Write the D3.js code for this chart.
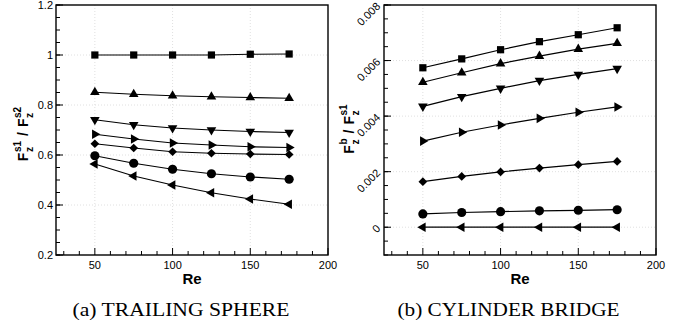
<!DOCTYPE html>
<html>
<head>
<meta charset="utf-8">
<script src="https://cdn.jsdelivr.net/npm/d3@7"></script>
<style>
  body { margin: 0; background: #fff; }
  svg { display: block; }
  .tick-label { font-family: "Liberation Sans", Arial, sans-serif; font-size: 11px; fill: #000; }
  .axis-title { font-family: "Liberation Sans", Arial, sans-serif; font-weight: bold; fill: #000; }
  .caption { font-family: "Liberation Serif", "Times New Roman", serif; font-size: 19px; fill: #000; }
</style>
</head>
<body>
<svg id="chart" width="676" height="326"></svg>
<script>
const RE = [50, 75, 100, 125, 150, 175]
const MARKERS = ['square', 'triUp', 'triDown', 'triRight', 'diamond', 'circle', 'triLeft']

// (a) trailing sphere, F_z^s1 / F_z^s2
const sphereSquare   = [1.0, 1.0, 1.0, 1.0, 1.003, 1.004]
const sphereTriUp    = [0.851, 0.843, 0.837, 0.833, 0.830, 0.827]
const sphereTriDown  = [0.741, 0.721, 0.708, 0.700, 0.694, 0.690]
const sphereTriRight = [0.683, 0.664, 0.648, 0.640, 0.633, 0.630]
const sphereDiamond  = [0.645, 0.628, 0.613, 0.607, 0.604, 0.602]
const sphereCircle   = [0.597, 0.567, 0.543, 0.525, 0.512, 0.503]
const sphereTriLeft  = [0.564, 0.516, 0.480, 0.449, 0.424, 0.403]

// (b) cylinder bridge, F_z^b / F_z^s1
const bridgeSquare   = [0.00574, 0.00606, 0.00639, 0.00668, 0.00693, 0.00718]
const bridgeTriUp    = [0.00522, 0.00556, 0.00589, 0.00616, 0.00641, 0.00662]
const bridgeTriDown  = [0.00435, 0.00470, 0.00500, 0.00528, 0.00550, 0.00571]
const bridgeTriRight = [0.00310, 0.00342, 0.00368, 0.00392, 0.00414, 0.00433]
const bridgeDiamond  = [0.00164, 0.00183, 0.00199, 0.00213, 0.00225, 0.00237]
const bridgeCircle   = [0.00048, 0.00053, 0.00056, 0.00059, 0.00061, 0.00063]
const bridgeTriLeft  = [0, 0, 0, 0, 0, 0]

const sphereTicks = [0.2, 0.4, 0.6, 0.8, 1, 1.2]
const sphereTickLabels = ['0.2', '0.4', '0.6', '0.8', '1', '1.2']
const bridgeTicks = [0, 0.002, 0.004, 0.006, 0.008]
const bridgeTickLabels = ['0', '0.002', '0.004', '0.006', '0.008']
const reTicks = [50, 100, 150, 200]

const svg = d3.select('#chart')

function markerPath (kind) {
  if (kind === 'square') return d3.symbol(d3.symbolSquare, 52)()
  if (kind === 'circle') return d3.symbol(d3.symbolCircle, 66)()
  if (kind === 'diamond') return d3.symbol(d3.symbolSquare, 38)()
  return d3.symbol(d3.symbolTriangle, 40)()
}
const ROT = { triUp: 0, triDown: 180, triRight: 90, triLeft: -90, diamond: 45 }

function drawPanel (opts) {
  const { left, top, width, height, yDomain, yTicks, yLabels, yMinorStep, series, rotateLabels } = opts
  const g = svg.append('g').attr('transform', 'translate(' + left + ',' + top + ')')
  const x = d3.scaleLinear().domain([25, 200]).range([0, width])
  const y = d3.scaleLinear().domain(yDomain).range([height, 0])

  // dotted grid
  g.selectAll('.gx').data(reTicks.filter(function (t) { return t < 200 })).enter().append('line')
    .attr('x1', function (d) { return x(d) }).attr('x2', function (d) { return x(d) })
    .attr('y1', 0).attr('y2', height)
    .attr('stroke', '#d8d8d8').attr('stroke-width', 0.8).attr('stroke-dasharray', '1,2')
  g.selectAll('.gy').data(yTicks.filter(function (t) { return y(t) > 1 && y(t) < height - 1 })).enter().append('line')
    .attr('y1', function (d) { return y(d) }).attr('y2', function (d) { return y(d) })
    .attr('x1', 0).attr('x2', width)
    .attr('stroke', '#d8d8d8').attr('stroke-width', 0.8).attr('stroke-dasharray', '1,2')

  // inward ticks
  const xMinor = d3.range(30, 200, 10).filter(function (t) { return t % 50 !== 0 })
  g.selectAll('.xt').data(reTicks.concat(xMinor)).enter().append('line')
    .attr('x1', function (d) { return x(d) }).attr('x2', function (d) { return x(d) })
    .attr('y1', height).attr('y2', function (d) { return height - (d % 50 === 0 ? 7 : 4) })
    .attr('stroke', '#000').attr('stroke-width', 1)
  const yMinor = d3.range(yDomain[0], yDomain[1] + 1e-9, yMinorStep)
  g.selectAll('.ytm').data(yMinor).enter().append('line')
    .attr('x1', 0).attr('x2', 4)
    .attr('y1', function (d) { return y(d) }).attr('y2', function (d) { return y(d) })
    .attr('stroke', '#000').attr('stroke-width', 1)
  g.selectAll('.ytM').data(yTicks).enter().append('line')
    .attr('x1', 0).attr('x2', 7)
    .attr('y1', function (d) { return y(d) }).attr('y2', function (d) { return y(d) })
    .attr('stroke', '#000').attr('stroke-width', 1)

  // tick labels
  g.selectAll('.xl').data(reTicks).enter().append('text')
    .attr('class', 'tick-label').attr('text-anchor', 'middle')
    .attr('x', function (d) { return x(d) }).attr('y', height + 14)
    .text(function (d) { return d })
  const yl = g.selectAll('.yl').data(yTicks).enter().append('text')
    .attr('class', 'tick-label').attr('text-anchor', 'end')
    .text(function (d, i) { return yLabels[i] })
  if (rotateLabels) {
    yl.attr('transform', function (d) { return 'translate(-3,' + (y(d) + 2) + ') rotate(-45)' })
  } else {
    yl.attr('x', -3).attr('y', function (d) { return y(d) + 4 })
  }

  // frame
  g.append('rect').attr('width', width).attr('height', height)
    .attr('fill', 'none').attr('stroke', '#000').attr('stroke-width', 1.4)

  // series
  const line = d3.line().x(function (d, i) { return x(RE[i]) }).y(function (d) { return y(d) })
  series.forEach(function (vals, k) {
    g.append('path').attr('d', line(vals)).attr('fill', 'none')
      .attr('stroke', '#000').attr('stroke-width', 1.2)
    const kind = MARKERS[k]
    g.selectAll('.m' + k).data(vals).enter().append('path')
      .attr('d', markerPath(kind))
      .attr('fill', '#000')
      .attr('transform', function (d, i) {
        return 'translate(' + x(RE[i]) + ',' + y(d) + ')' + (ROT[kind] !== undefined ? ' rotate(' + ROT[kind] + ')' : '')
      })
  })

  // x title
  g.append('text').attr('class', 'axis-title').attr('font-size', 15)
    .attr('text-anchor', 'middle').attr('x', width / 2).attr('y', height + 29).text('Re')
  return g
}

// rotated title F_z^a / F_z^b built piece by piece
function yTitle (baseX, cy, sup1, sup2) {
  const outer = svg.append('g').attr('transform', 'translate(' + baseX + ',' + cy + ') rotate(-90)')
  const g = outer.append('g')
  let cursor = 0
  function piece (txt, size, dy) {
    const t = g.append('text').attr('class', 'axis-title').attr('font-size', size)
      .attr('x', cursor).attr('y', dy).text(txt)
    return t.node().getComputedTextLength()
  }
  function term (sup) {
    cursor += piece('F', 14, 0) + 0.5
    const w1 = piece(sup, 10, -7)
    const w2 = piece('z', 10, 5)
    cursor += Math.max(w1, w2)
  }
  term(sup1)
  cursor += 5
  cursor += piece('/', 14, 0)
  cursor += 5
  term(sup2)
  g.attr('transform', 'translate(' + (-cursor / 2) + ',0)')
}

drawPanel({
  left: 56, top: 5, width: 272, height: 250,
  yDomain: [0.2, 1.2], yTicks: sphereTicks, yLabels: sphereTickLabels, yMinorStep: 0.05,
  series: [sphereSquare, sphereTriUp, sphereTriDown, sphereTriRight, sphereDiamond, sphereCircle, sphereTriLeft],
  rotateLabels: false
})
drawPanel({
  left: 384, top: 5, width: 272, height: 250,
  yDomain: [-0.001, 0.008], yTicks: bridgeTicks, yLabels: bridgeTickLabels, yMinorStep: 0.0005,
  series: [bridgeSquare, bridgeTriUp, bridgeTriDown, bridgeTriRight, bridgeDiamond, bridgeCircle, bridgeTriLeft],
  rotateLabels: true
})

yTitle(28, 134, 's1', 's2')
yTitle(353.5, 129, 'b', 's1')

svg.append('text').attr('class', 'caption').attr('text-anchor', 'middle')
  .attr('x', 181).attr('y', 316).attr('textLength', 217).attr('lengthAdjust', 'spacingAndGlyphs')
  .text('(a) TRAILING SPHERE')
svg.append('text').attr('class', 'caption').attr('text-anchor', 'middle')
  .attr('x', 508.5).attr('y', 316).attr('textLength', 222).attr('lengthAdjust', 'spacingAndGlyphs')
  .text('(b) CYLINDER BRIDGE')
</script>
</body>
</html>
